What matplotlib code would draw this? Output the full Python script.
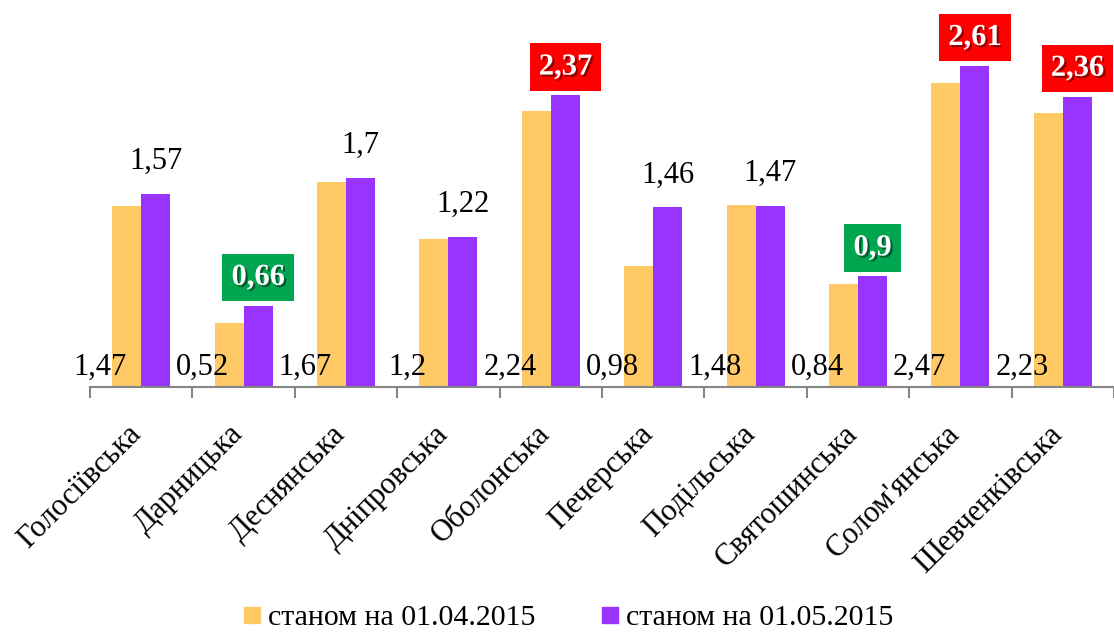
import matplotlib
matplotlib.use("Agg")
import matplotlib.pyplot as plt
import matplotlib.patheffects as pe
from matplotlib.lines import Line2D
import numpy as np

plt.rcParams['font.family'] = ['Liberation Serif', 'DejaVu Serif']

districts = ["Голосіївська", "Дарницька", "Деснянська", "Дніпровська", "Оболонська",
             "Печерська", "Подільська", "Святошинська", "Солом'янська", "Шевченківська"]
apr = [1.47, 0.52, 1.67, 1.2, 2.24, 0.98, 1.48, 0.84, 2.47, 2.23]
may = [1.57, 0.66, 1.7, 1.22, 2.37, 1.46, 1.47, 0.9, 2.61, 2.36]
# box colour for highlighted labels of the May series (None = plain text)
highlight = [None, "#00A54F", None, None, "#FF0000", None, None, "#00A54F", "#FF0000", "#FF0000"]

c_apr = "#FFC966"
c_may = "#9933FF"

def fmt(v):
    return f"{v:g}".replace(".", ",")

fig = plt.figure(figsize=(11.14, 6.35), dpi=100)
ax = fig.add_axes([0.0808, 0.3906, 0.9192, 0.6094])

x = np.arange(len(districts))
w = 0.283
ax.bar(x - w / 2, apr, w, color=c_apr)
ax.bar(x + w / 2, may, w, color=c_may)

ax.set_xlim(-0.5, len(districts) - 0.5)
ax.set_ylim(0, 3.146)

for s in ["top", "right", "left"]:
    ax.spines[s].set_visible(False)
ax.spines["bottom"].set_color("#868686")
ax.spines["bottom"].set_linewidth(1.5)
ax.set_yticks([])
ax.set_xticks(np.arange(len(districts) + 1) - 0.5)
ax.set_xticklabels([])
ax.tick_params(axis="x", direction="out", length=8, width=1.5, color="#868686")

for i, name in enumerate(districts):
    ax.annotate(name, (i, 0), xytext=(-3.5, -31), textcoords="offset points",
                rotation=45, rotation_mode="anchor", ha="right", va="center",
                fontsize=22, annotation_clip=False)

for i, v in enumerate(apr):
    ax.text(i - 0.4, 0.04, fmt(v), ha="center", va="bottom", fontsize=22)

shadow = [pe.SimplePatchShadow(offset=(1.5, -1.5), shadow_rgbFace="black", alpha=0.45), pe.Normal()]
for i, v in enumerate(may):
    if highlight[i] is None:
        ax.annotate(fmt(v), (i + w / 2, v), xytext=(0, 13), textcoords="offset points",
                    ha="center", va="bottom", fontsize=22)
    else:
        t = ax.annotate(fmt(v), (i + w / 2, v), xytext=(0, 10), textcoords="offset points",
                        ha="center", va="bottom", fontsize=22, fontweight="bold", color="white",
                        bbox=dict(boxstyle="square,pad=0.3", fc=highlight[i], ec="none"))
        t.set_path_effects(shadow)

handles = [Line2D([], [], marker="s", ls="none", color=c_apr, markersize=11.5),
           Line2D([], [], marker="s", ls="none", color=c_may, markersize=11.5)]
fig.legend(handles, ["станом на 01.04.2015", "станом на 01.05.2015"], loc="lower center",
           bbox_to_anchor=(0.51, -0.036), ncol=2, frameon=False, fontsize=21.5,
           handlelength=0.6, handletextpad=0.25, columnspacing=2.2)

fig.savefig("out.png", dpi=100)
